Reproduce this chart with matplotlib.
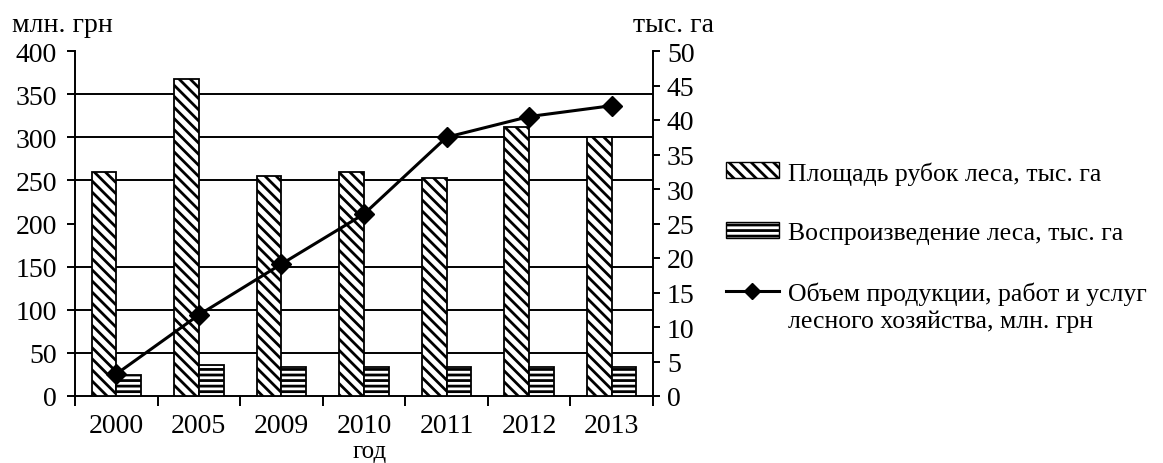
import matplotlib
matplotlib.use('Agg')
import matplotlib.pyplot as plt
import numpy as np
from matplotlib.ticker import FixedLocator, MultipleLocator
from matplotlib.patches import Patch
from matplotlib.lines import Line2D

####################################################################################################

years = ['2000', '2005', '2009', '2010', '2011', '2012', '2013']
# тыс. га (right axis)
cutting_area = [32.5, 45.9, 31.9, 32.5, 31.6, 39.0, 37.5]
reproduction = [3.1, 4.5, 4.25, 4.25, 4.25, 4.25, 4.25]
# млн. грн (left axis)
production = [25.5, 94, 153, 211, 300, 324, 336.6]

left_max, left_step = 400, 50
right_max, right_step = 50, 5

label_cutting = 'Площадь рубок леса, тыс. га'
label_reproduction = 'Воспроизведение леса, тыс. га'
label_production = ['Объем продукции, работ и услуг', 'лесного хозяйства, млн. грн']

####################################################################################################

plt.rcParams['font.family'] = ['Liberation Serif', 'DejaVu Serif']
plt.rcParams['hatch.linewidth'] = 2.0
plt.rcParams['hatch.color'] = 'black'

W, H = 1163, 464
fig = plt.figure(figsize=(W / 100, H / 100), dpi=100)

rect = [75 / W, (H - 397) / H, (653 - 75) / W, (397 - 52) / H]

# bars axis (right scale), drawn below
ax_bars = fig.add_axes(rect)
# line axis (left scale), drawn on top
ax_line = fig.add_axes(rect, sharex=ax_bars)
ax_line.patch.set_visible(False)

x = np.arange(len(years))
width = 0.3
hatch_diag = '\\\\\\'
hatch_horiz = '---'

ax_bars.bar(x - 0.15, cutting_area, width, facecolor='white', edgecolor='black',
            linewidth=1.3, hatch=hatch_diag, zorder=3)
ax_bars.bar(x + 0.15, reproduction, width, facecolor='white', edgecolor='black',
            linewidth=1.3, hatch=hatch_horiz, zorder=3)

ax_line.plot(x, production, color='black', linewidth=2.2, marker='D', markersize=10, zorder=5)

# scales
ax_bars.set_ylim(0, right_max)
ax_line.set_ylim(0, left_max)
ax_bars.set_xlim(-0.5, len(years) - 0.5)

# grid lines follow the left scale but sit under the bars
grid_vals = np.arange(left_step, left_max, left_step) * right_max / left_max
ax_bars.yaxis.set_minor_locator(FixedLocator(grid_vals))
ax_bars.yaxis.grid(True, which='minor', color='black', linewidth=1.4, zorder=0)
ax_bars.yaxis.grid(False, which='major')
ax_bars.set_axisbelow(True)

# right axis
ax_bars.yaxis.tick_right()
ax_bars.yaxis.set_major_locator(MultipleLocator(right_step))
ax_bars.tick_params(axis='y', which='major', direction='out', length=5, width=1.4,
                    labelsize=20, pad=5)
ax_bars.tick_params(axis='y', which='minor', length=0)
for s in ('top', 'left'):
    ax_bars.spines[s].set_visible(False)
ax_bars.spines['right'].set_linewidth(1.4)
ax_bars.spines['bottom'].set_linewidth(1.4)

# left axis
ax_line.yaxis.set_major_locator(MultipleLocator(left_step))
ax_line.tick_params(axis='y', direction='out', length=6, width=1.4, labelsize=20, pad=7)
for s in ('top', 'right', 'bottom'):
    ax_line.spines[s].set_visible(False)
ax_line.spines['left'].set_linewidth(1.4)

# x axis: labels at centres, ticks at boundaries
ax_bars.set_xticks(x, labels=years)
ax_bars.set_xticks(np.arange(len(years) + 1) - 0.5, minor=True)
ax_bars.tick_params(axis='x', which='major', length=0, labelsize=20, pad=12)
ax_bars.tick_params(axis='x', which='minor', direction='out', length=7.5, width=1.4)
ax_line.tick_params(axis='x', which='both', bottom=False, labelbottom=False)

fig.text(370 / W, 1 / H, 'год', fontsize=18, va='bottom', ha='center')
fig.text(12 / W, 1 - 32 / H, 'млн. грн', fontsize=20, va='baseline', ha='left')
fig.text(633 / W, 1 - 32 / H, 'тыс. га', fontsize=20, va='baseline', ha='left')

# legend
handles = [
    Patch(facecolor='white', edgecolor='black', hatch=hatch_diag, linewidth=1.0),
    Patch(facecolor='white', edgecolor='black', hatch=hatch_horiz, linewidth=1.0),
    Line2D([], [], color='black', linewidth=2.2, marker='D', markersize=8),
]
leg = fig.legend(handles, [label_cutting, label_reproduction, label_production[0]],
                 loc='upper left', bbox_to_anchor=(726 / W, 1 - 162 / H),
                 frameon=False, fontsize=18.5, handlelength=2.05, handleheight=0.58,
                 handletextpad=0.35, labelspacing=1.45, borderpad=0, borderaxespad=0)

# second line of the third label, under the first one
fig.canvas.draw()
t3 = leg.get_texts()[2]
x0 = t3.get_window_extent().x0
fig.text(x0 / W, 1 - 328 / H, label_production[1], fontsize=18.5,
         va='baseline', ha='left')

fig.savefig('out.png', dpi=100)
